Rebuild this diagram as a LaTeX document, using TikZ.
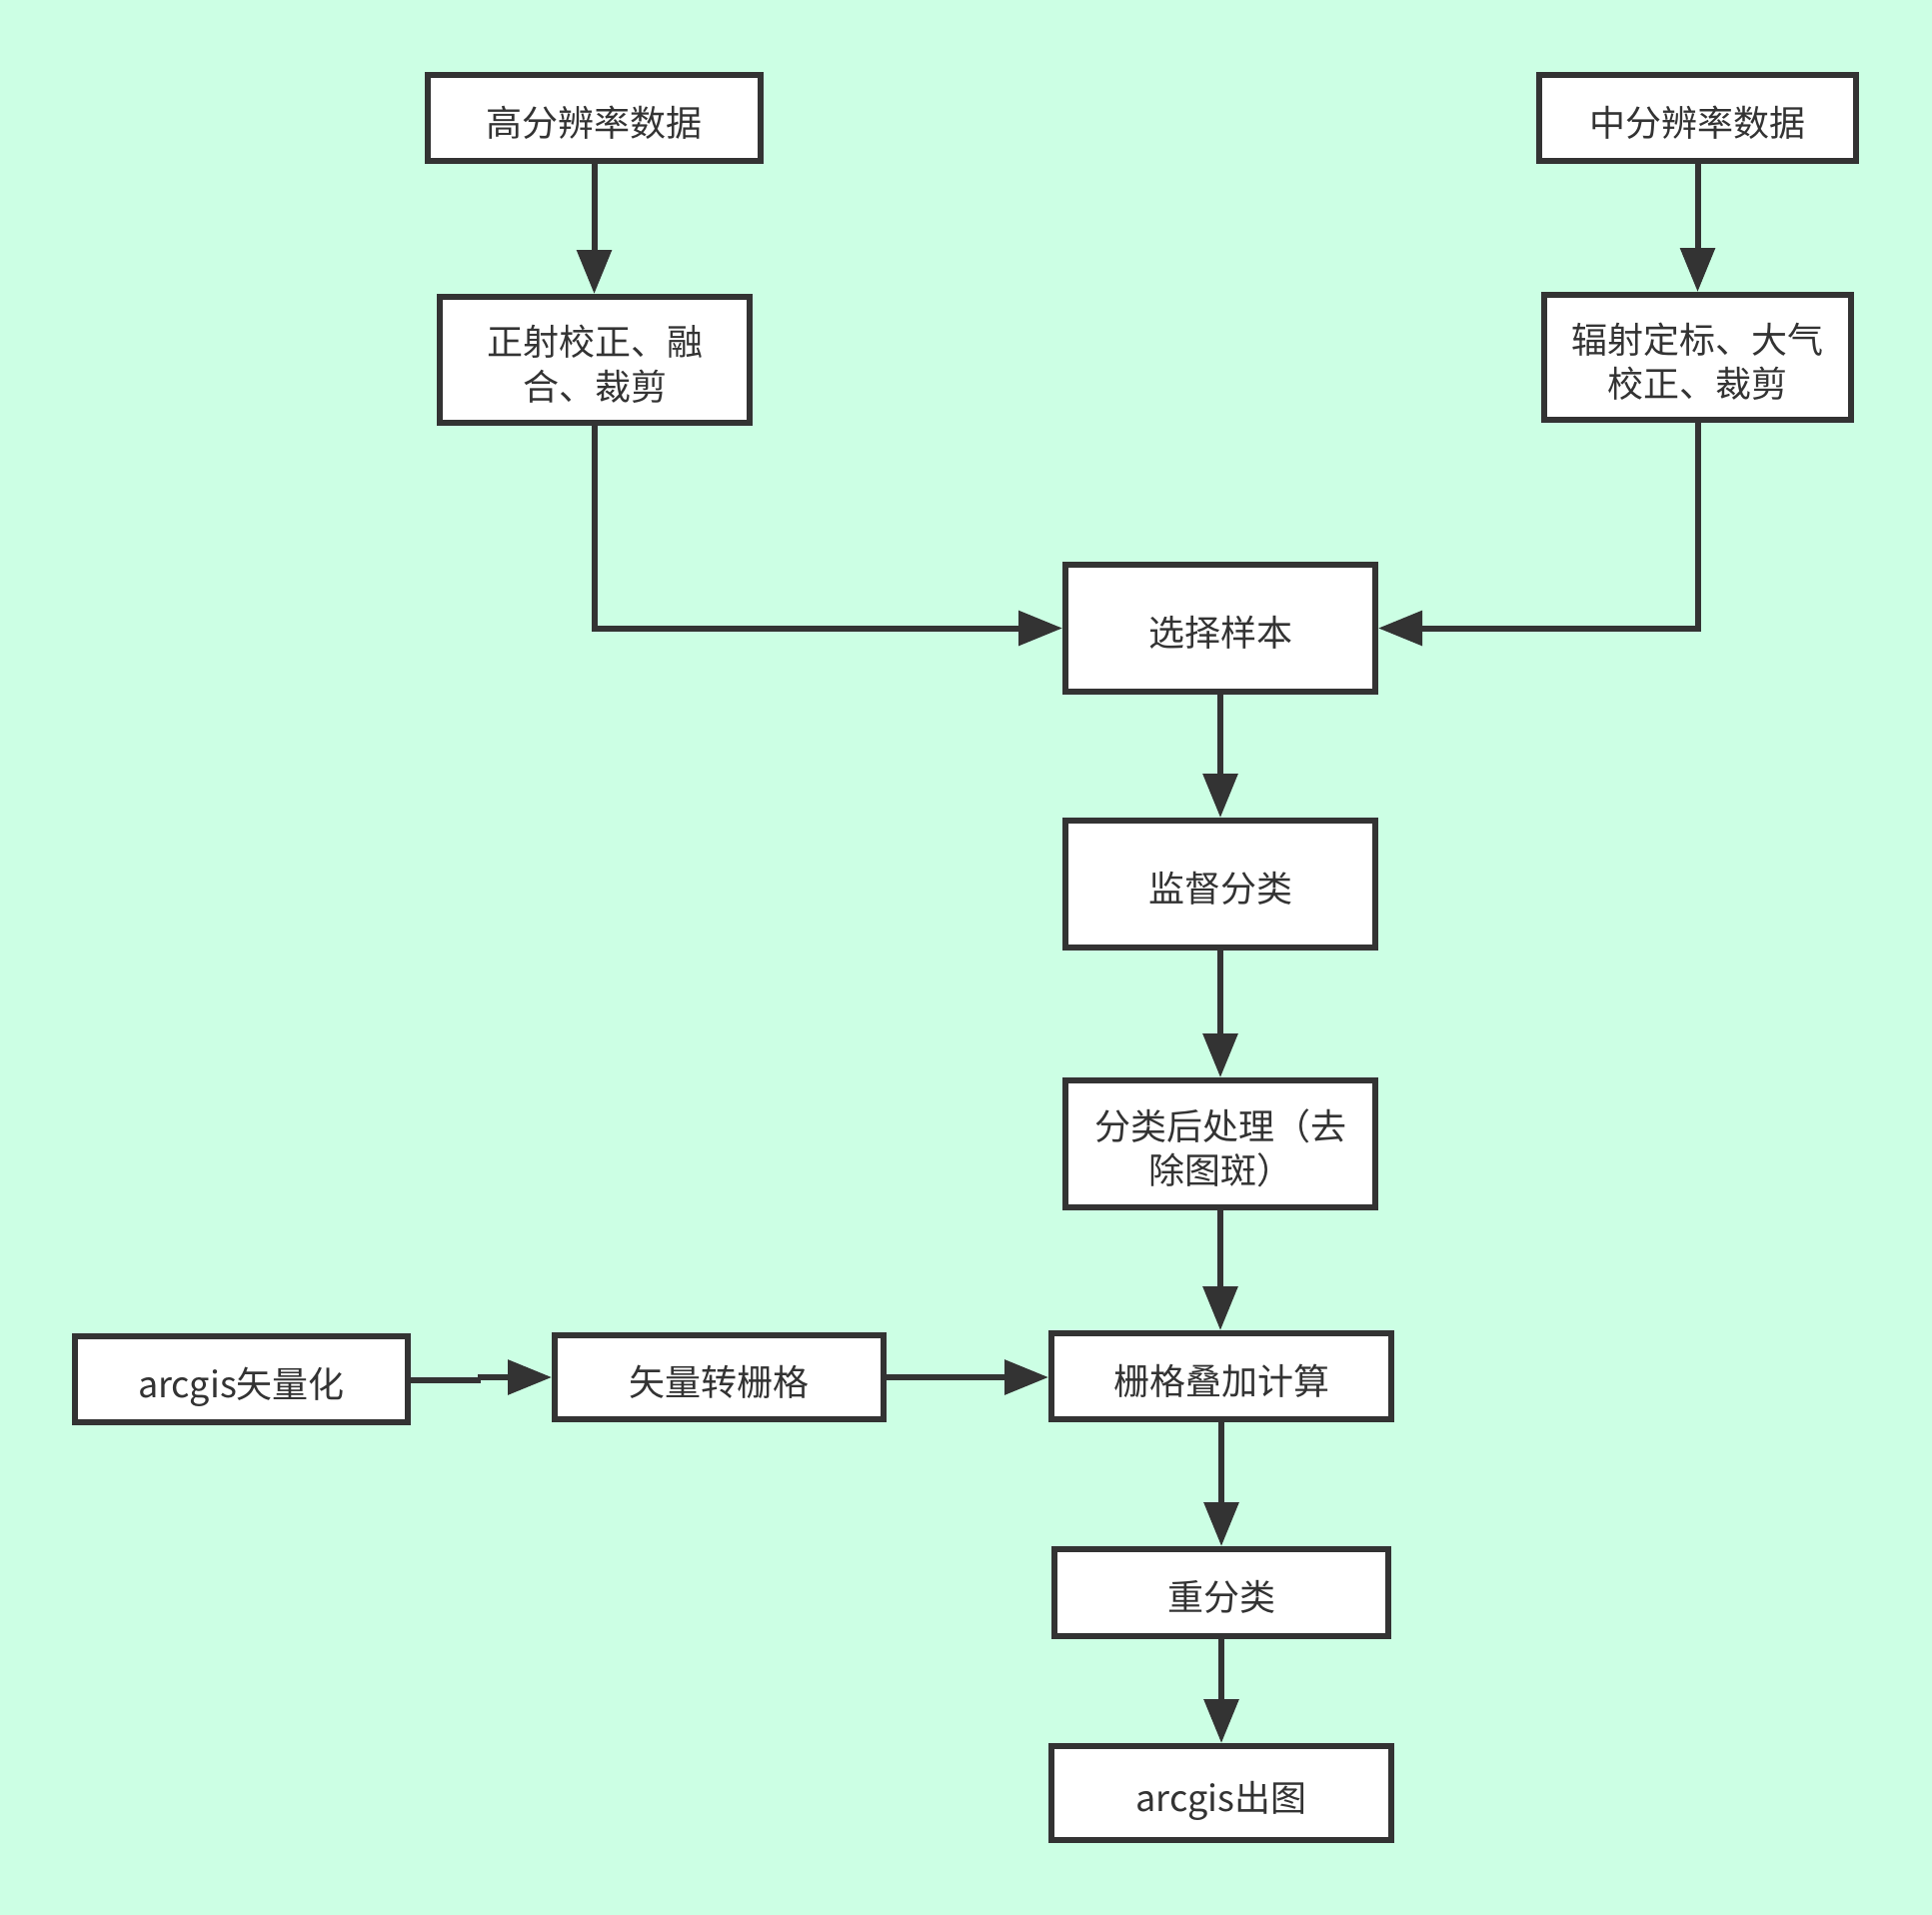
\documentclass[tikz,border=0pt]{standalone}
\usepackage{fontspec}
\setmainfont{Noto Sans CJK SC}
\usetikzlibrary{arrows.meta}
\definecolor{bg}{RGB}{204,255,228}
\definecolor{ink}{RGB}{51,51,51}
\newcommand\boxtext[1]{\raisebox{-4.6pt}[\height][\depth]{\begin{tabular}{@{}c@{}}#1\end{tabular}}}
\begin{document}
\begin{tikzpicture}[x=0.5pt,y=-0.5pt,
  box/.style={draw=ink, line width=3pt, fill=white, inner sep=0pt, text=ink,
    font=\fontsize{18}{22.1}\selectfont},
  conn/.style={draw=ink, line width=3pt, line join=miter, -{Triangle[length=22pt,width=17pt]}}]
\fill[bg] (0,0) rectangle (1933,1916);
\useasboundingbox (0,0) rectangle (1933,1916);
\node[box, minimum width=166.5pt, minimum height=43pt] (b1) at (594.5,118) {\boxtext{高分辨率数据}};
\node[box, minimum width=158.5pt, minimum height=43pt] (b2) at (1698.5,118) {\boxtext{中分辨率数据}};
\node[box, minimum width=155pt, minimum height=63pt] (b3) at (595,360) {\boxtext{正射校正、融\\合、裁剪}};
\node[box, minimum width=153.5pt, minimum height=62.5pt] (b4) at (1698.5,357.5) {\boxtext{辐射定标、大气\\校正、裁剪}};
\node[box, minimum width=155pt, minimum height=63.5pt] (b5) at (1221,628.5) {\boxtext{选择样本}};
\node[box, minimum width=155pt, minimum height=63.5pt] (b6) at (1221,884.5) {\boxtext{监督分类}};
\node[box, minimum width=155pt, minimum height=63.5pt] (b7) at (1221,1144.5) {\boxtext{分类后处理（去\\除图斑）}};
\node[box, minimum width=170pt, minimum height=43pt] (b8) at (1222,1377) {\boxtext{栅格叠加计算}};
\node[box, minimum width=166.5pt, minimum height=43pt] (b9) at (241.5,1380) {\boxtext{arcgis矢量化}};
\node[box, minimum width=164.5pt, minimum height=42pt] (b10) at (719.5,1378) {\boxtext{矢量转栅格}};
\node[box, minimum width=167pt, minimum height=43.5pt] (b11) at (1222,1593.5) {\boxtext{重分类}};
\node[box, minimum width=170pt, minimum height=47pt] (b12) at (1222,1794) {\boxtext{arcgis出图}};
\coordinate (j1) at (478,1381);
\coordinate (j2) at (478,1378);
\draw[conn] (b1.south) -- (b1.south |- b3.north);
\draw[conn] (b2.south) -- (b2.south |- b4.north);
\draw[conn] (b3.south) |- (b5.west);
\draw[conn] (b4.south) |- (b5.east);
\draw[conn] (b5.south) -- (b6.north);
\draw[conn] (b6.south) -- (b7.north);
\draw[conn] (b7.south) -- (b7.south |- b8.north);
\draw[conn] (b8.south) -- (b11.north);
\draw[conn] (b11.south) -- (b12.north);
\draw[draw=ink, line width=3pt] (b9.east |- j1) -- (j1) -- (j2);
\draw[conn] (j2) -- (b10.west |- j2);
\draw[conn] (b10.east) -- (b10.east -| b8.west);
\end{tikzpicture}
\end{document}
